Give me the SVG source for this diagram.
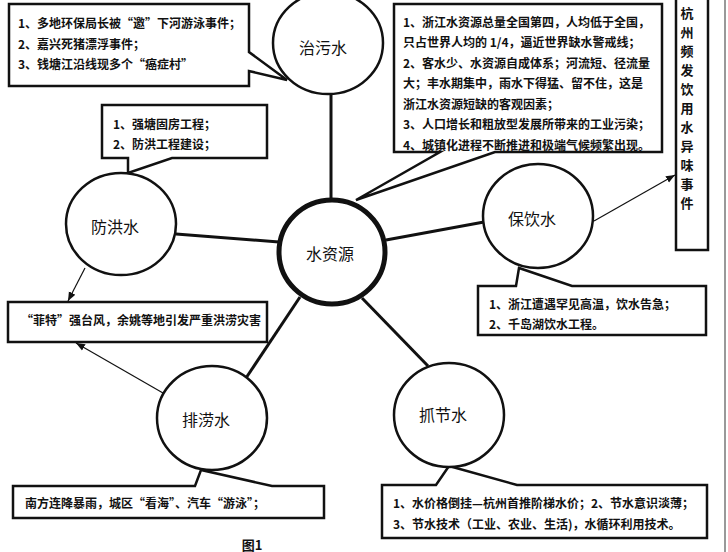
<svg xmlns="http://www.w3.org/2000/svg" width="728" height="552" viewBox="0 0 728 552">
<style>
.box{fill:#fff;stroke:#111;stroke-width:2.5;stroke-linejoin:miter}
.circ{fill:#fff;stroke:#111;stroke-width:2.5}
.hub{fill:#fff;stroke:#111;stroke-width:5}
.con{stroke:#111;stroke-width:3;fill:none}
.arr{stroke:#111;stroke-width:1.2;fill:none;marker-end:url(#ah)}
.t{font-family:"Noto Sans CJK SC","Liberation Sans",sans-serif;font-size:12px;font-weight:bold;fill:#111;dominant-baseline:central}
.c{font-family:"Noto Sans CJK SC","Liberation Sans",sans-serif;font-size:16px;fill:#111;text-anchor:middle;dominant-baseline:central}
</style>
<defs>
<marker id="ah" viewBox="0 0 10 10" refX="10" refY="5" markerWidth="9" markerHeight="9" markerUnits="userSpaceOnUse" orient="auto">
<path d="M0,1 L10,5 L0,9 Z" fill="#111"/>
</marker>
</defs>
<rect width="728" height="552" fill="#fff"/>
<line x1="725" y1="0" x2="725" y2="552" stroke="#999" stroke-width="2"/>

<g id="connectors">
<line class="con" x1="331" y1="94" x2="331" y2="199"/>
<line class="con" x1="176" y1="234" x2="279" y2="242"/>
<line class="con" x1="386" y1="240" x2="484" y2="222"/>
<line class="con" x1="300" y1="297" x2="246" y2="378"/>
<line class="con" x1="362" y1="298" x2="428" y2="366"/>
<line class="arr" x1="85" y1="268" x2="68" y2="301"/>
<line class="arr" x1="163" y1="393" x2="76" y2="343"/>
<line class="arr" x1="594" y1="221" x2="675" y2="175"/>
</g>

<g id="note-zhiwu">
<path class="box" d="M9,4 H249 V52 L287,80 L249,71 V86 H9 Z"/>
<text class="t" x="18" y="22">1、多地环保局长被“邀”下河游泳事件；</text>
<text class="t" x="18" y="43">2、嘉兴死猪漂浮事件；</text>
<text class="t" x="18" y="63">3、钱塘江沿线现多个“癌症村”</text>
</g>

<g id="note-ziyuan">
<path class="box" d="M394,4 H662 V152 H495 L356,200 L440,152 H394 Z"/>
<text class="t" x="403" y="21">1、浙江水资源总量全国第四，人均低于全国，</text>
<text class="t" x="403" y="41.5">只占世界人均的 1/4，逼近世界缺水警戒线；</text>
<text class="t" x="403" y="62">2、客水少、水资源自成体系；河流短、径流量</text>
<text class="t" x="403" y="82.5">大；丰水期集中，雨水下得猛、留不住，这是</text>
<text class="t" x="403" y="103">浙江水资源短缺的客观因素；</text>
<text class="t" x="403" y="123.5">3、人口增长和粗放型发展所带来的工业污染；</text>
<text class="t" x="403" y="144">4、城镇化进程不断推进和极端气候频繁出现。</text>
</g>

<g id="note-hangzhou">
<rect class="box" x="676" y="-3" width="32" height="253"/>
<text class="t" style="font-size:13px;text-anchor:middle">
<tspan x="687" y="12">杭</tspan><tspan x="687" y="31">州</tspan><tspan x="687" y="50">频</tspan><tspan x="687" y="69">发</tspan><tspan x="687" y="88">饮</tspan><tspan x="687" y="107">用</tspan><tspan x="687" y="126">水</tspan><tspan x="687" y="145">异</tspan><tspan x="687" y="164">味</tspan><tspan x="687" y="183">事</tspan><tspan x="687" y="202">件</tspan>
</text>
</g>

<g id="note-fanghong">
<path class="box" d="M102,105 H267 V158 H172 L128,173 L128,158 H102 Z"/>
<text class="t" x="113" y="123">1、强塘固房工程；</text>
<text class="t" x="113" y="143">2、防洪工程建设；</text>
</g>

<g id="note-feite">
<rect class="box" x="8" y="302" width="259" height="40"/>
<text class="t" x="21" y="319">“菲特”强台风，余姚等地引发严重洪涝灾害</text>
</g>

<g id="note-baoyin">
<path class="box" d="M478,286 H516 L519,268 L572,286 H706 V335 H478 Z"/>
<text class="t" x="489" y="303">1、浙江遭遇罕见高温，饮水告急；</text>
<text class="t" x="489" y="323">2、千岛湖饮水工程。</text>
</g>

<g id="note-pailao">
<path class="box" d="M13,486 H195 L201,470 L272,486 H324 V518 H13 Z"/>
<text class="t" x="25" y="502">南方连降暴雨，城区“看海”、汽车“游泳”；</text>
</g>

<g id="note-zhuajie">
<path class="box" d="M382,485 H436 L449,466 L517,485 H707 V538 H382 Z"/>
<text class="t" x="393" y="502">1、水价格倒挂—杭州首推阶梯水价；2、节水意识淡薄；</text>
<text class="t" x="393" y="523">3、节水技术（工业、农业、生活)，水循环利用技术。</text>
</g>

<g id="node-zhiwu">
<ellipse class="circ" cx="328" cy="43" rx="55" ry="51"/>
<text class="c" x="323" y="47">治污水</text>
</g>
<g id="node-shuiziyuan">
<ellipse class="hub" cx="332" cy="252" rx="53" ry="52"/>
<text class="c" x="330" y="253">水资源</text>
</g>
<g id="node-baoyin">
<ellipse class="circ" cx="538" cy="216" rx="55" ry="52"/>
<text class="c" x="532" y="218">保饮水</text>
</g>
<g id="node-fanghong">
<ellipse class="circ" cx="121" cy="224" rx="55" ry="51"/>
<text class="c" x="115" y="226">防洪水</text>
</g>
<g id="node-pailao">
<ellipse class="circ" cx="212" cy="418" rx="55" ry="52"/>
<text class="c" x="206" y="419">排涝水</text>
</g>
<g id="node-zhuajie">
<ellipse class="circ" cx="449" cy="415" rx="55" ry="52"/>
<text class="c" x="443" y="414">抓节水</text>
</g>

<text class="t" x="252" y="544" style="font-size:13px;text-anchor:middle">图1</text>
</svg>
